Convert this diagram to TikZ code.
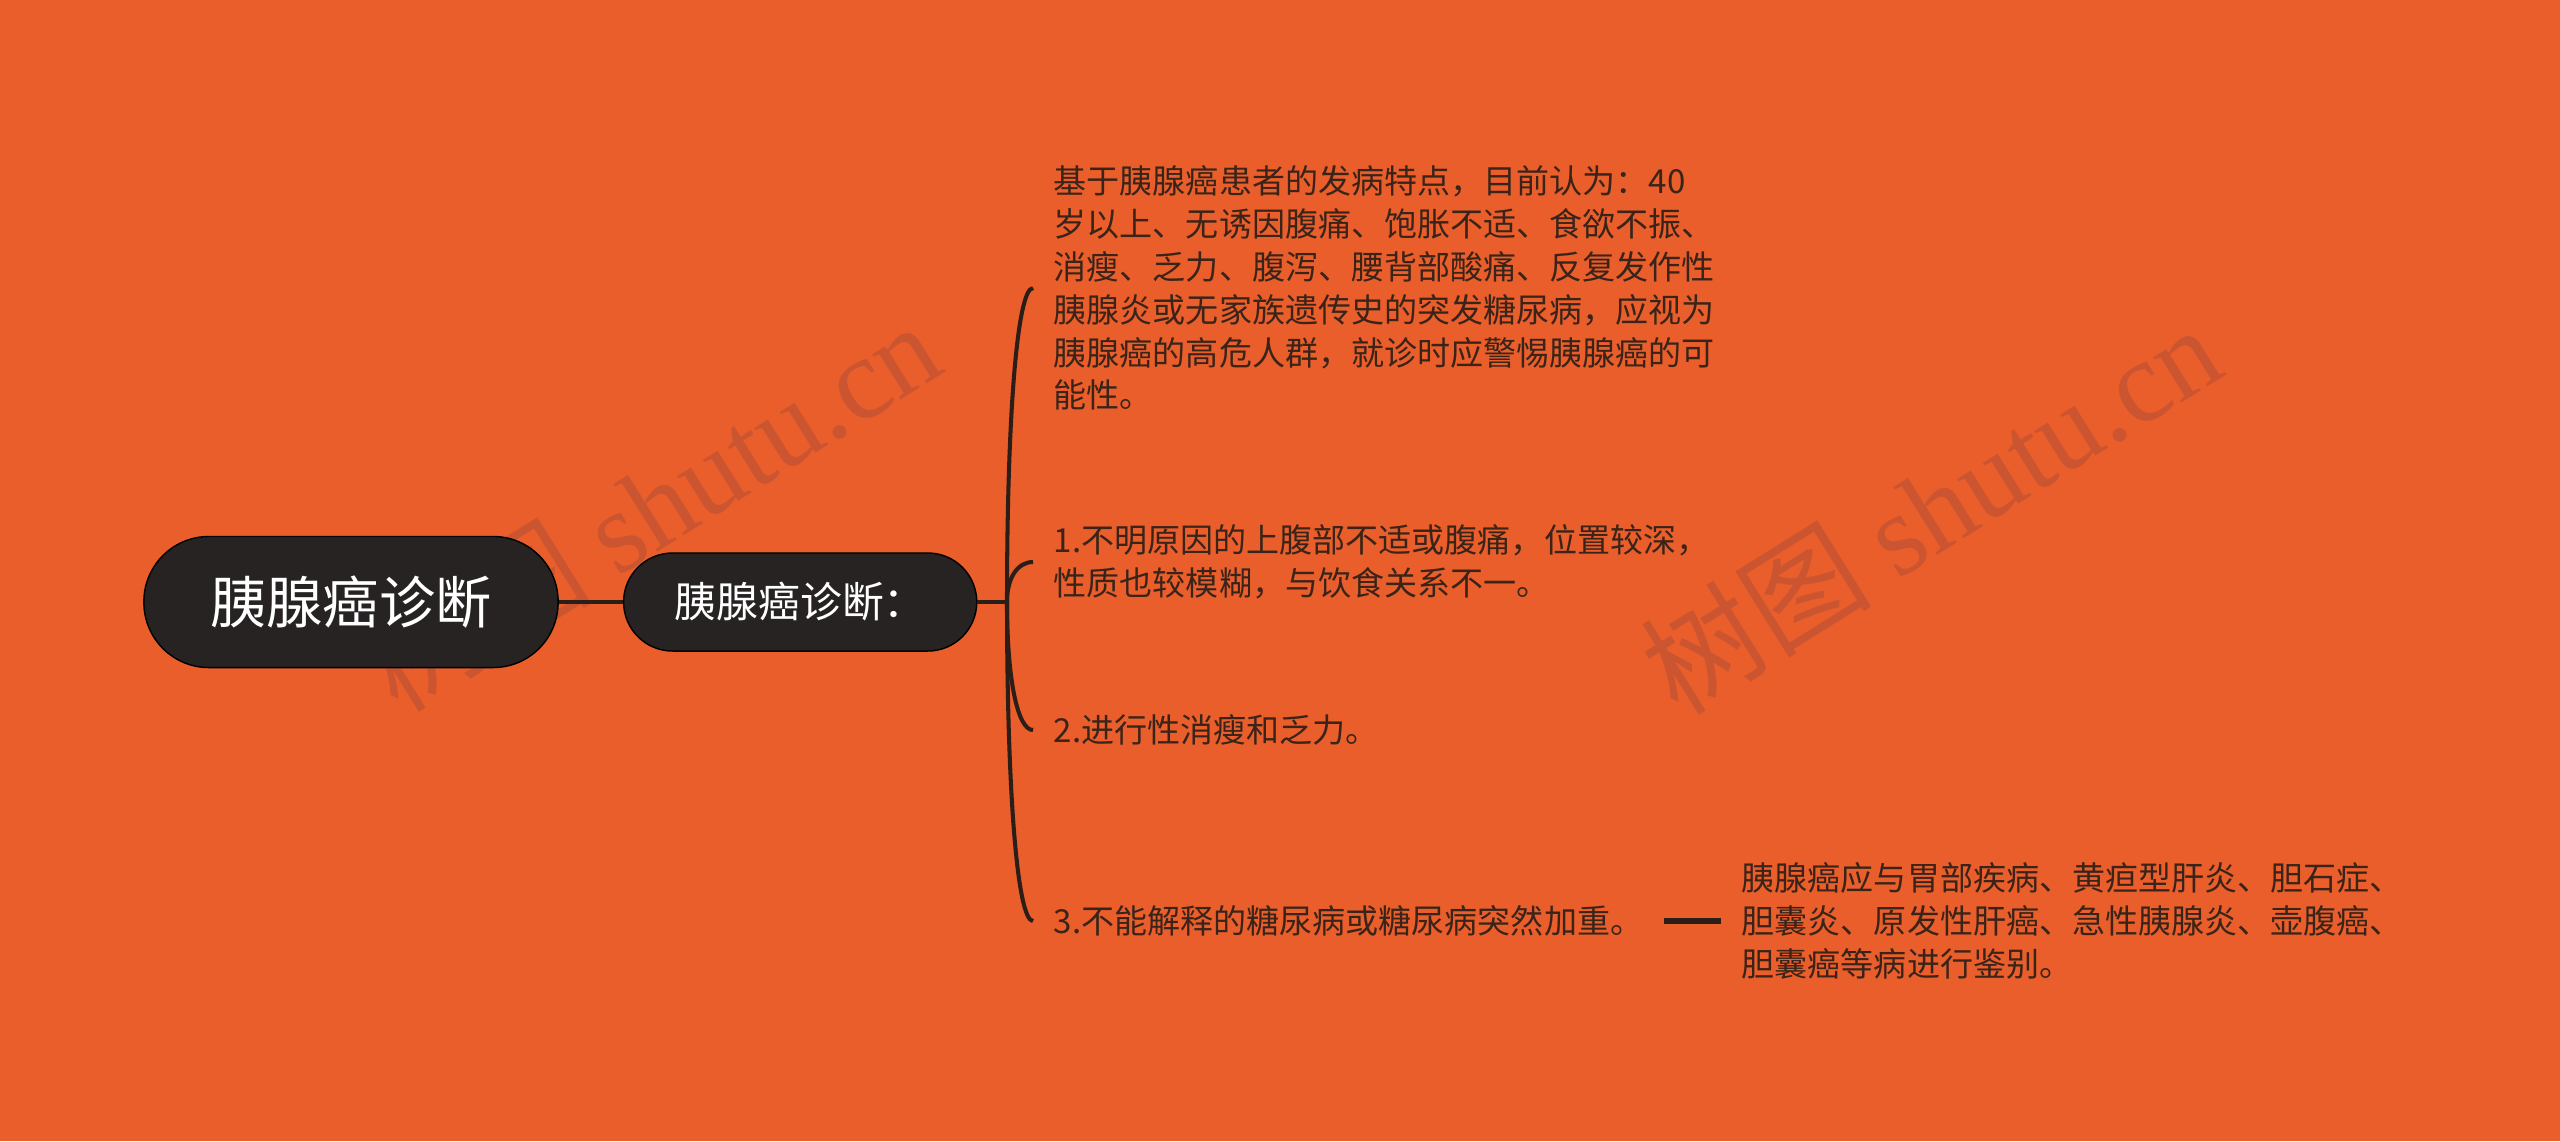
\documentclass[tikz,border=0pt]{standalone}
\usepackage{fontspec}
\setmainfont{Noto Sans CJK SC}
\newfontfamily\serifmarca{Liberation Serif}
\usetikzlibrary{positioning,calc}
\definecolor{fondo}{HTML}{E95E2A}
\definecolor{nodo}{HTML}{262322}
\definecolor{linea}{HTML}{2B1D17}
\definecolor{texto}{HTML}{3A2419}
\definecolor{marca}{HTML}{CC5531}

\begin{document}
\begin{tikzpicture}[x=0.01cm,y=-0.01cm,
    raiz/.style={fill=nodo,draw=black,line width=0.4pt,text=white,rounded corners=0.65cm,
      minimum width=4.14cm,minimum height=1.31cm,font=\fontsize{16}{19}\selectfont},
    tema/.style={fill=nodo,draw=black,line width=0.4pt,text=white,rounded corners=0.49cm,
      minimum width=3.53cm,minimum height=0.98cm,font=\fontsize{11.9}{14}\selectfont},
    hoja/.style={anchor=west,inner xsep=0.2cm,inner ysep=0pt,align=left,text=texto,
      font=\fontsize{9.4}{12.2}\selectfont},
    rama/.style={draw=linea,line width=1.15pt},
    marca/.style={text=marca,rotate=32,font=\fontsize{33}{33}\selectfont}]
    % Fondo
    \useasboundingbox (0,0) rectangle (2560,1141);
    \fill[fondo] (0,0) rectangle (2560,1141);

    % Marcas de agua
    \node[marca] (wm1) at (650,505) {树图 {\serifmarca shutu.cn}};
    \node[marca] (wm2) at (1930,508) {树图 {\serifmarca shutu.cn}};

    % Nodos principales
    \node[raiz] (raiz) at (351,602) {胰腺癌诊断};
    \node[tema, right=0.64cm of raiz] (diag) {胰腺癌诊断：};
    \coordinate (eje) at (1007,602);

    % Hojas
    \node[hoja] (t1) at (1033,288) {基于胰腺癌患者的发病特点，目前认为：40\\岁以上、无诱因腹痛、饱胀不适、食欲不振、\\消瘦、乏力、腹泻、腰背部酸痛、反复发作性\\胰腺炎或无家族遗传史的突发糖尿病，应视为\\胰腺癌的高危人群，就诊时应警惕胰腺癌的可\\能性。};
    \node[hoja] (t2) at (1033,562) {1.不明原因的上腹部不适或腹痛，位置较深，\\性质也较模糊，与饮食关系不一。};
    \node[hoja] (t3) at (1033,730) {2.进行性消瘦和乏力。};
    \node[hoja] (t4) at (1033,921) {3.不能解释的糖尿病或糖尿病突然加重。};
    \node[hoja] (hijo) at (1721,921) {胰腺癌应与胃部疾病、黄疸型肝炎、胆石症、\\胆囊炎、原发性肝癌、急性胰腺炎、壶腹癌、\\胆囊癌等病进行鉴别。};

    % Conexiones
    \draw[rama] (raiz) -- (diag);
    \draw[rama] (diag.east) -- (eje);
    \foreach \n in {t1,t2,t3,t4}
      \draw[rama] (eje) .. controls ($(eje)!0.6!(eje |- \n.west)$) and ($(\n.west)!0.6!(eje |- \n.west)$) .. (\n.west);
    \draw[rama,line width=1.5pt] (t4.east) -- (hijo.west);
\end{tikzpicture}
\end{document}
